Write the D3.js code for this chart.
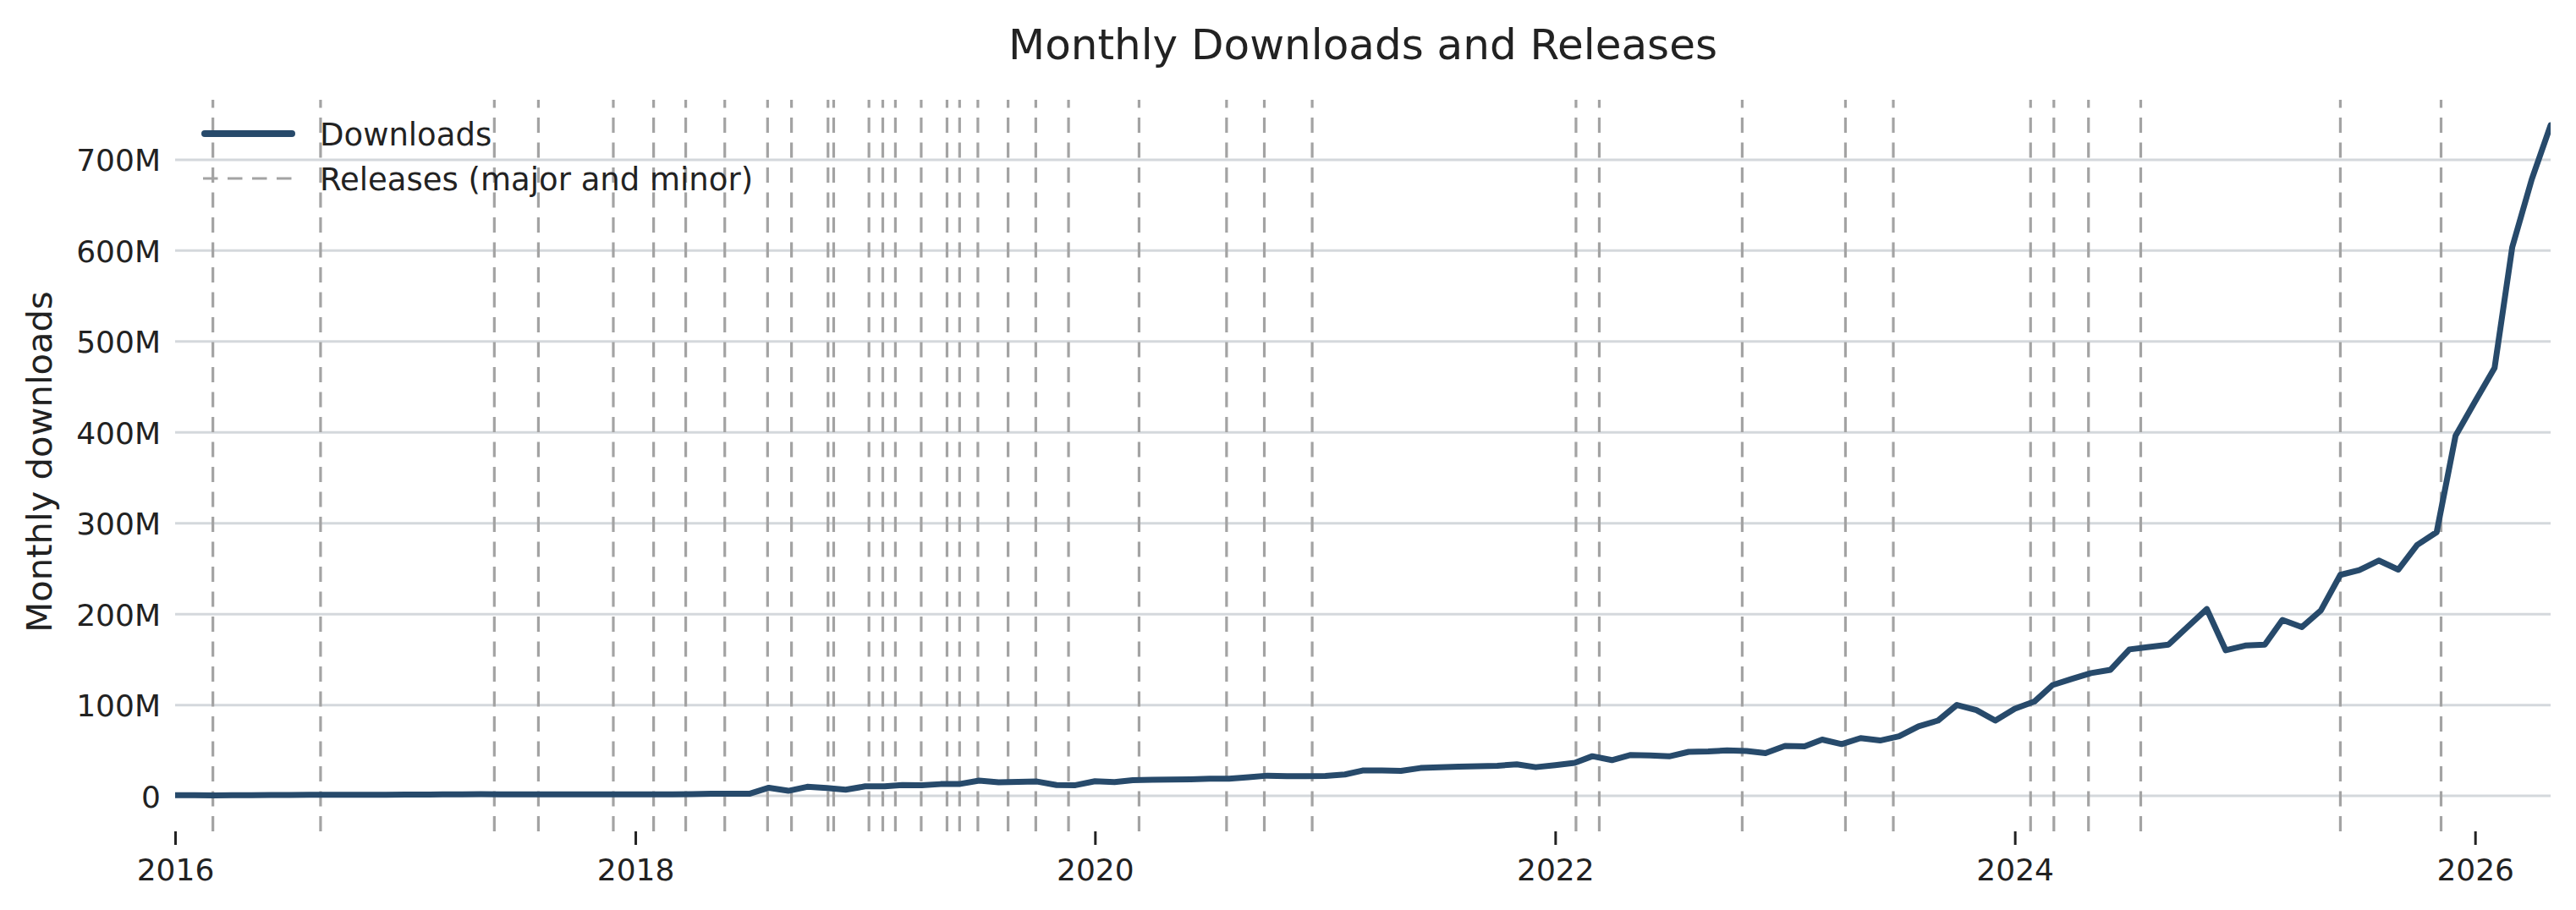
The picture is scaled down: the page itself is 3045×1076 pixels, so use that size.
<!DOCTYPE html>
<html>
<head>
<meta charset="utf-8">
<script src="https://cdn.jsdelivr.net/npm/d3@7"></script>
<style>
  html, body { margin: 0; padding: 0; background: #ffffff; }
  svg { display: block; font-family: "DejaVu Sans", sans-serif; }
</style>
</head>
<body>
<svg id="chart" width="3045" height="1076"></svg>
<script>
// ---------------- DATA ----------------
const startMonth = "2016-01-01";
const endMonth = "2026-05-01";

// Monthly downloads in millions, Jan 2016 .. May 2026
const downloads = [
  0.8, 0.7, 0.6, 0.7, 0.9, 1.0, 1.1, 1.2, 1.2, 1.2, 1.3, 1.3,            // 2016
  1.4, 1.5, 1.6, 1.7, 1.9, 1.8, 1.6, 1.6, 1.7, 1.6, 1.8, 1.7,            // 2017
  1.8, 1.7, 1.8, 2.0, 2.3, 2.4, 2.3, 9.0, 5.6, 10.0, 8.7, 6.8,           // 2018
  10.5, 10.6, 12.0, 11.8, 13.0, 13.2, 16.8, 15.0, 15.5, 15.8, 12.0, 11.8, // 2019
  16.1, 15.2, 17.4, 17.7, 18.0, 18.3, 18.9, 18.9, 20.5, 22.3, 21.7, 21.7, // 2020
  22.0, 23.6, 27.9, 27.9, 27.6, 30.7, 31.6, 32.3, 32.6, 33.2, 34.8, 31.6, // 2021
  33.8, 36.3, 43.7, 39.4, 45.0, 44.5, 43.5, 48.5, 49.0, 50.0, 49.5, 47.0, // 2022
  55.0, 54.5, 62.0, 57.0, 63.6, 61.0, 65.6, 76.6, 82.9, 100.1, 94.4, 82.9, // 2023
  96.0, 103.8, 122.0, 128.8, 135.1, 138.8, 161.2, 163.8, 166.4, 185.8, 205.6, 160.2, // 2024
  165.4, 166.4, 193.6, 185.8, 204.0, 243.2, 248.4, 259.0, 249.0, 276.2, 290.2, 396.3, // 2025
  433.9, 471.0, 603.7, 678.4, 738.0                                         // 2026
];

// Release dates (major and minor)
const releases = [
  "2016-03-01", "2016-08-19", "2017-05-22", "2017-07-31", "2017-11-27",
  "2018-01-30", "2018-03-22", "2018-05-23", "2018-07-30", "2018-09-06",
  "2018-11-03", "2018-11-12", "2019-01-07", "2019-01-29", "2019-02-18",
  "2019-03-31", "2019-05-11", "2019-05-31", "2019-06-29", "2019-08-16",
  "2019-09-29", "2019-11-20", "2020-03-11", "2020-07-28", "2020-09-26",
  "2020-12-11", "2022-02-03", "2022-03-12", "2022-10-25", "2023-04-07",
  "2023-06-22", "2024-01-26", "2024-03-03", "2024-04-27", "2024-07-19",
  "2025-06-01", "2025-11-08"
];

const yTicks = [0, 100, 200, 300, 400, 500, 600, 700];
const yTickLabels = ["0", "100M", "200M", "300M", "400M", "500M", "600M", "700M"];
const xTickYears = [2016, 2018, 2020, 2022, 2024, 2026];

const titleText = "Monthly Downloads and Releases";
const yLabelText = "Monthly downloads";
const legendLabels = ["Downloads", "Releases (major and minor)"];

// ---------------- LAYOUT ----------------
const parse = d3.utcParse("%Y-%m-%d");
const months = d3.utcMonth.range(parse(startMonth), d3.utcMonth.offset(parse(endMonth), 1));
const series = months.map((d, i) => ({ date: d, value: downloads[i] }));

const plotL = 207, plotR = 3015, plotT = 118, plotB = 983;
const lineColor = "#274a6b";
const gridColor = "#d4d8dc";
const relColor = "#a3a3a3";
const textColor = "#222222";

const x = d3.scaleUtc().domain([parse(startMonth), parse(endMonth)]).range([plotL, plotR]);
const y = d3.scaleLinear().domain([-39, 766]).range([plotB, plotT]);

const svg = d3.select("#chart");
svg.append("rect").attr("width", 3045).attr("height", 1076).attr("fill", "#ffffff");

// Gridlines
svg.append("g").selectAll("line").data(yTicks).join("line")
  .attr("x1", plotL).attr("x2", plotR)
  .attr("y1", d => y(d)).attr("y2", d => y(d))
  .attr("stroke", gridColor).attr("stroke-width", 3);

// Release lines (dashed, drawn from bottom upward)
svg.append("g").selectAll("line").data(releases).join("line")
  .attr("x1", d => x(parse(d))).attr("x2", d => x(parse(d)))
  .attr("y1", plotB).attr("y2", plotT)
  .attr("stroke", relColor).attr("stroke-width", 3.2)
  .attr("stroke-dasharray", "18,11.5");

// Download line
const line = d3.line().x(d => x(d.date)).y(d => y(d.value));
svg.append("defs").append("clipPath").attr("id", "clip")
  .append("rect").attr("x", plotL).attr("y", plotT).attr("width", plotR - plotL).attr("height", plotB - plotT);
svg.append("path").datum(series)
  .attr("d", line)
  .attr("fill", "none")
  .attr("stroke", lineColor)
  .attr("stroke-width", 7)
  .attr("stroke-linejoin", "round")
  .attr("stroke-linecap", "round")
  .attr("clip-path", "url(#clip)");

// Y axis (labels only)
const yAxis = d3.axisLeft(y).tickValues(yTicks).tickSize(0).tickPadding(17)
  .tickFormat((d, i) => yTickLabels[i]);
const gy = svg.append("g").attr("transform", `translate(${plotL},0)`).call(yAxis);
gy.select(".domain").remove();
gy.selectAll("text").attr("font-size", 36).attr("font-family", "DejaVu Sans")
  .attr("fill", textColor).attr("dy", "0.36em");

// X axis (ticks + labels, no spine)
const xAxis = d3.axisBottom(x).tickValues(xTickYears.map(yr => new Date(Date.UTC(yr, 0, 1))))
  .tickSize(16).tickPadding(16).tickFormat(d3.utcFormat("%Y"));
const gx = svg.append("g").attr("transform", `translate(0,${plotB})`).call(xAxis);
gx.select(".domain").remove();
gx.selectAll(".tick line").attr("stroke", textColor).attr("stroke-width", 3);
gx.selectAll("text").attr("font-size", 36).attr("font-family", "DejaVu Sans")
  .attr("fill", textColor);

// Title
svg.append("text").attr("x", (plotL + plotR) / 2).attr("y", 70)
  .attr("text-anchor", "middle").attr("font-size", 50).attr("fill", textColor)
  .text(titleText);

// Y label
svg.append("text").attr("transform", "translate(61,546) rotate(-90)")
  .attr("text-anchor", "middle").attr("font-size", 41.7).attr("fill", textColor)
  .text(yLabelText);

// Legend
const lg = svg.append("g");
lg.append("line").attr("x1", 242).attr("x2", 345).attr("y1", 158).attr("y2", 158)
  .attr("stroke", lineColor).attr("stroke-width", 8).attr("stroke-linecap", "round");
lg.append("line").attr("x1", 240).attr("x2", 345).attr("y1", 211).attr("y2", 211)
  .attr("stroke", relColor).attr("stroke-width", 3.2).attr("stroke-dasharray", "17.5,11.5");
lg.selectAll("text").data(legendLabels).join("text")
  .attr("x", 378).attr("y", (d, i) => [171.5, 224.5][i])
  .attr("font-size", 37).attr("fill", textColor)
  .text(d => d);
</script>
</body>
</html>
